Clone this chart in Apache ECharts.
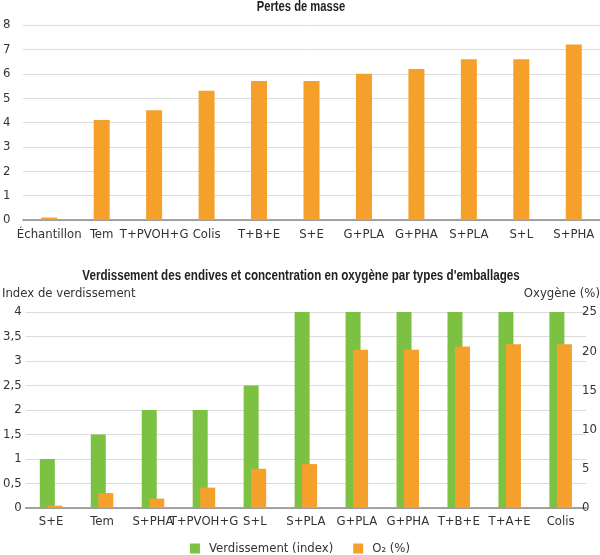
<!DOCTYPE html>
<html>
<head>
<meta charset="utf-8">
<script src="https://cdn.jsdelivr.net/npm/echarts@6/dist/echarts.min.js"></script>
<style>
html,body{margin:0;padding:0;background:#fff;}
#c{width:600px;height:555px;}
</style>
</head>
<body>
<div id="c"></div>
<script>
const massCategories = ['Échantillon','Tem','T+PVOH+G','Colis','T+B+E','S+E','G+PLA','G+PHA','S+PLA','S+L','S+PHA'];
const massLoss = [0.1, 4.1, 4.5, 5.3, 5.7, 5.7, 6.0, 6.2, 6.6, 6.6, 7.2];

const packCategories = ['S+E','Tem','S+PHA','T+PVOH+G','S+L','S+PLA','G+PLA','G+PHA','T+B+E','T+A+E','Colis'];
const greeningIndex = [1, 1.5, 2, 2, 2.5, 4, 4, 4, 4, 4, 4];
const oxygenPct = [0.3, 1.9, 1.2, 2.6, 5.0, 5.6, 20.2, 20.2, 20.6, 20.9, 20.9];

const title1 = 'Pertes de masse';
const title2 = "Verdissement des endives et concentration en oxygène par types d'emballages";

const FONT = "'Liberation Sans Narrow','DejaVu Sans Condensed','Roboto',sans-serif";
const TXT = '#333';
const ORANGE = '#F5A02A';
const GREEN = '#7DC143';
const GRIDC = '#dcdcdc';
const comma = v => String(v).replace('.', ',');

const chart = echarts.init(document.getElementById('c'), null, {renderer:'canvas'});
chart.setOption({
  backgroundColor:'#fff',
  animation:false,
  textStyle:{fontFamily:FONT, color:TXT},
  graphic:[
    {type:'text', x:301, y:7, scaleX:0.8,
     style:{text:title1, fill:'#222', font:"bold 14px 'Liberation Sans', sans-serif", textAlign:'center', textVerticalAlign:'middle'}},
    {type:'text', x:301, y:276, scaleX:0.83,
     style:{text:title2, fill:'#222', font:"bold 14px 'Liberation Sans', sans-serif", textAlign:'center', textVerticalAlign:'middle'}}
  ],
  title:[
    {text:'Index de verdissement', left:2, top:287, padding:0,
     textStyle:{fontFamily:FONT, fontSize:13, fontWeight:'normal', color:TXT}},
    {text:'Oxygène (%)', right:0, top:287, padding:0,
     textStyle:{fontFamily:FONT, fontSize:13, fontWeight:'normal', color:TXT}}
  ],
  legend:{
    data:['Verdissement (index)','O₂ (%)'],
    left:'center', top:537, itemWidth:10, itemHeight:10, itemGap:20,
    icon:'rect',
    textStyle:{fontFamily:FONT, fontSize:13, color:TXT, padding:[0,0,0,4]}
  },
  grid:[
    {left:16, right:0, top:25, bottom:335, containLabel:false},
    {left:21, right:10, top:312, bottom:47, containLabel:false}
  ],
  xAxis:[
    {type:'category', gridIndex:0, data:massCategories,
     axisLine:{show:true, lineStyle:{color:'#888', width:1.5}},
     axisTick:{show:false},
     axisLabel:{fontFamily:FONT, fontSize:13, color:TXT, margin:8, interval:0}},
    {type:'category', gridIndex:1, data:packCategories,
     axisLine:{show:true, lineStyle:{color:'#888', width:1.5}},
     axisTick:{show:false},
     axisLabel:{fontFamily:FONT, fontSize:13, color:TXT, margin:7, interval:0}}
  ],
  yAxis:[
    {type:'value', gridIndex:0, min:0, max:8, interval:1,
     axisLine:{show:false}, axisTick:{show:false},
     splitLine:{lineStyle:{color:GRIDC}},
     axisLabel:{fontFamily:FONT, fontSize:13, color:TXT, margin:5, align:'left', padding:[0,0,0,-15]}},
    {type:'value', gridIndex:1, min:0, max:4, interval:0.5, position:'left',
     axisLine:{show:false}, axisTick:{show:false},
     splitLine:{lineStyle:{color:GRIDC}},
     axisLabel:{fontFamily:FONT, fontSize:13, color:TXT, margin:4, formatter:comma}},
    {type:'value', gridIndex:1, min:0, max:25, interval:5, position:'right',
     axisLine:{show:false}, axisTick:{show:false},
     splitLine:{show:false},
     axisLabel:{fontFamily:FONT, fontSize:13, color:TXT, margin:-4}}
  ],
  series:[
    {name:'Pertes de masse', type:'bar', xAxisIndex:0, yAxisIndex:0, data:massLoss,
     barWidth:16, itemStyle:{color:ORANGE}},
    {name:'Verdissement (index)', type:'bar', xAxisIndex:1, yAxisIndex:1, data:greeningIndex,
     barWidth:15, barGap:'-50%', itemStyle:{color:GREEN}},
    {name:'O₂ (%)', type:'bar', xAxisIndex:1, yAxisIndex:2, data:oxygenPct,
     barWidth:15, barGap:'-50%', itemStyle:{color:ORANGE}}
  ]
});
</script>
</body>
</html>
